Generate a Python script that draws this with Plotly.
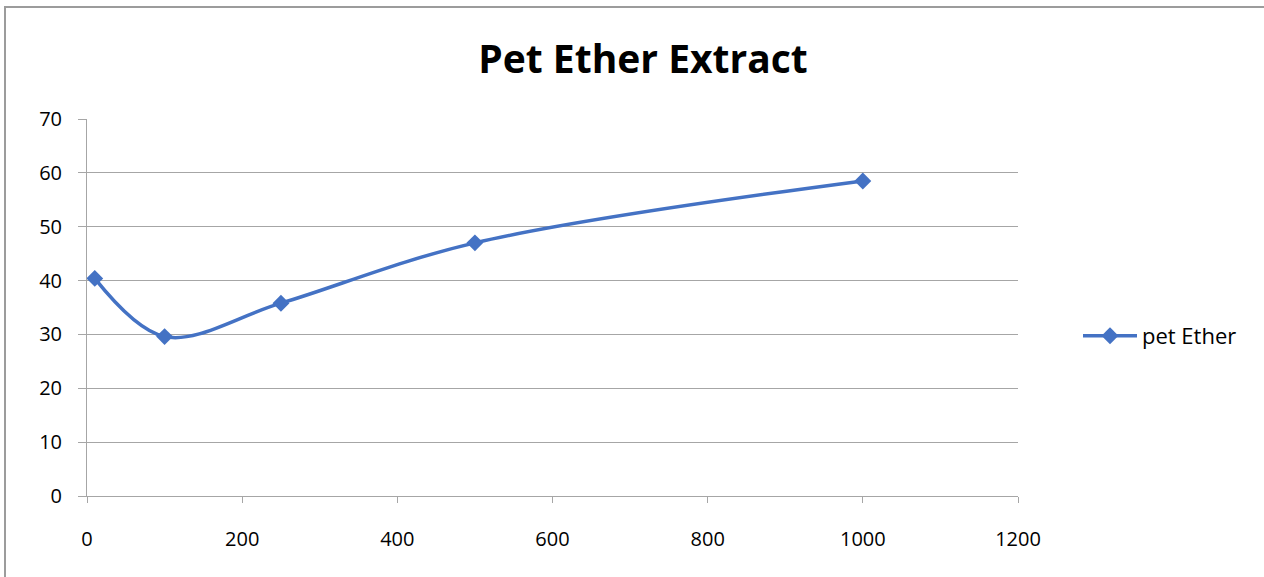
import plotly.graph_objects as go

# Pet ether extract series
concentration = [10, 100, 250, 500, 1000]
pet_ether = [40.4, 29.6, 35.8, 47.0, 58.5]

x_ticks = [0, 200, 400, 600, 800, 1000, 1200]
y_ticks = [0, 10, 20, 30, 40, 50, 60, 70]

W, H = 1264, 577
L, R, T, B = 87, 246, 119, 81
pw, ph = W - L - R, H - T - B

fig = go.Figure()
fig.add_trace(go.Scatter(
    x=concentration, y=pet_ether, name="pet Ether",
    mode="lines+markers",
    line=dict(color="#4472C4", width=3.5, shape="spline", smoothing=1.0),
    marker=dict(symbol="diamond", size=13, color="#4472C4"),
))

grid = "#A6A6A6"
font = "'Open Sans', 'Noto Sans', sans-serif"

fig.update_layout(
    width=W, height=H,
    margin=dict(l=L, r=R, t=T, b=B, autoexpand=False),
    paper_bgcolor="white", plot_bgcolor="white",
    font=dict(family=font, size=20, color="black"),
    title=dict(text="<b>Pet Ether Extract</b>", x=643 / W, xanchor="center",
               y=1 - 59 / H, yanchor="middle", yref="container",
               font=dict(size=39, family=font, color="black")),
    xaxis=dict(range=[0, 1200], tickvals=x_ticks, showgrid=False,
               showline=True, linecolor=grid, linewidth=1,
               ticks="outside", ticklen=6, tickcolor=grid, tickwidth=1,
               zeroline=False, ticklabelstandoff=19),
    yaxis=dict(range=[0, 70], tickvals=y_ticks, showgrid=True,
               gridcolor=grid, gridwidth=1,
               showline=True, linecolor=grid, linewidth=1,
               ticks="outside", ticklen=8, tickcolor=grid, tickwidth=1,
               zeroline=False, ticklabelstandoff=12),
    legend=dict(x=(1078 - L) / pw, xanchor="left",
                y=(H - B - 336) / ph, yanchor="middle",
                itemwidth=54, bgcolor="rgba(0,0,0,0)",
                font=dict(size=22, family=font)),
    showlegend=True,
)

# Chart frame
fig.add_shape(type="rect", xref="paper", yref="paper",
              x0=(5 - L) / pw, x1=(W + 10 - L) / pw,
              y0=(H - B - (H + 10)) / ph, y1=(H - B - 7) / ph,
              line=dict(color="#9C9C9C", width=2), fillcolor="rgba(0,0,0,0)",
              layer="below")

fig.write_html("out.html")
